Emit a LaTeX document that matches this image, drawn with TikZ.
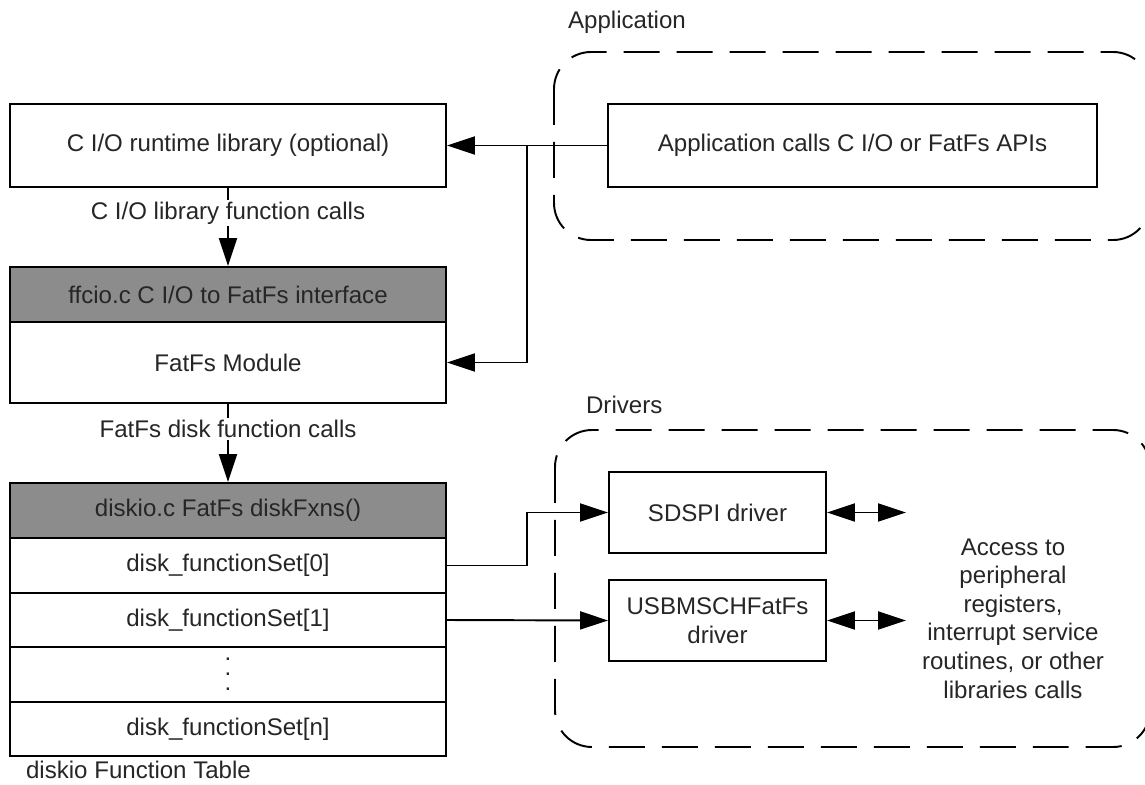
\documentclass[tikz,border=0pt]{standalone}
\usepackage{fontspec}
\setmainfont{Liberation Sans}
\usetikzlibrary{arrows.meta}

\begin{document}
\begin{tikzpicture}[x=0.02cm, y=-0.02cm,
        font=\fontsize{13.7}{16.3}\selectfont,
        box/.style={draw, line width=1.1pt, fill=white, text=black!85, inner sep=0pt},
        hdrbox/.style={box, fill=black!45},
        lbl/.style={text=black!85, inner sep=1pt},
        region/.style={draw, line width=1.1pt, dash pattern=on 0.72cm off 0.34cm, rounded corners=0.74cm},
        arr/.style={line width=1.1pt, -{Triangle[length=0.56cm,width=0.36cm]}},
        dblarr/.style={line width=1.1pt, {Triangle[length=0.56cm,width=0.36cm]}-{Triangle[length=0.56cm,width=0.36cm]}}]
    \def\px{0.02cm}
    \useasboundingbox (0,0) rectangle (1145,784);

    % dashed groups
    \draw [region] (554,52) rectangle (1150,240);
    \draw [region] (555,430) rectangle (1150,747);
    \node [lbl, anchor=west] (applbl) at (566,22) {Application};
    \node [lbl, anchor=west] (drvlbl) at (584,405) {Drivers};

    % left stack
    \node [box, minimum width=436*\px, minimum height=83*\px] (crt) at (228,145.5) {C I/O runtime library (optional)};
    \node [hdrbox, minimum width=436*\px, minimum height=55*\px] (ffcio) at (228,294.5) {ffcio.c C I/O to FatFs interface};
    \node [box, minimum width=436*\px, minimum height=81*\px] (fatfs) at (228,362.5) {FatFs Module};
    \node [hdrbox, minimum width=436*\px, minimum height=55*\px] (diskio) at (228,510.5) {diskio.c FatFs diskFxns()};
    \node [box, minimum width=436*\px, minimum height=55*\px] (set0) at (228,565.5) {disk\_functionSet[0]};
    \node [box, minimum width=436*\px, minimum height=54*\px] (set1) at (228,620) {disk\_functionSet[1]};
    \node [box, minimum width=436*\px, minimum height=55*\px, align=center,
           font=\fontsize{13.7}{8.5}\selectfont] (dots) at (228,674.5) {.\\.\\.};
    \node [box, minimum width=436*\px, minimum height=54*\px] (setn) at (228,729) {disk\_functionSet[n]};
    \node [lbl, anchor=west] (tbllbl) at (24,770) {diskio Function Table};

    % right boxes
    \node [box, minimum width=489*\px, minimum height=83*\px] (app) at (852.5,145.5) {Application calls C I/O or FatFs APIs};
    \node [box, minimum width=217*\px, minimum height=81*\px] (sdspi) at (717.5,512.5) {SDSPI driver};
    \node [box, minimum width=217*\px, minimum height=81*\px, align=center] (usb) at (717.5,620.5) {USBMSCHFatFs\\driver};
    \node [lbl, align=center] (access) at (1013,618.5) {Access to\\peripheral\\registers,\\interrupt service\\routines, or other\\libraries calls};
    \coordinate (sdspiend) at (906,512.5);
    \coordinate (usbend) at (906,620.5);
    \coordinate (split) at (527,145.5);

    % connectors
    \draw [arr] (crt) -- (ffcio);
    \node [lbl, fill=white] (crtcalls) at (228,213) {C I/O library function calls};
    \draw [arr] (fatfs) -- (diskio);
    \node [lbl, fill=white] (diskcalls) at (228,429) {FatFs disk function calls};
    \draw [arr] (app.west) -- (crt.east);
    \draw [arr] (split) |- (fatfs.east);
    \draw [arr] (set0.east) -- ++(80,0) |- (sdspi.west);
    \draw [arr] (set1.east) -- (usb.west);
    \draw [dblarr] (sdspi.east) -- (sdspiend);
    \draw [dblarr] (usb.east) -- (usbend);
\end{tikzpicture}
\end{document}
